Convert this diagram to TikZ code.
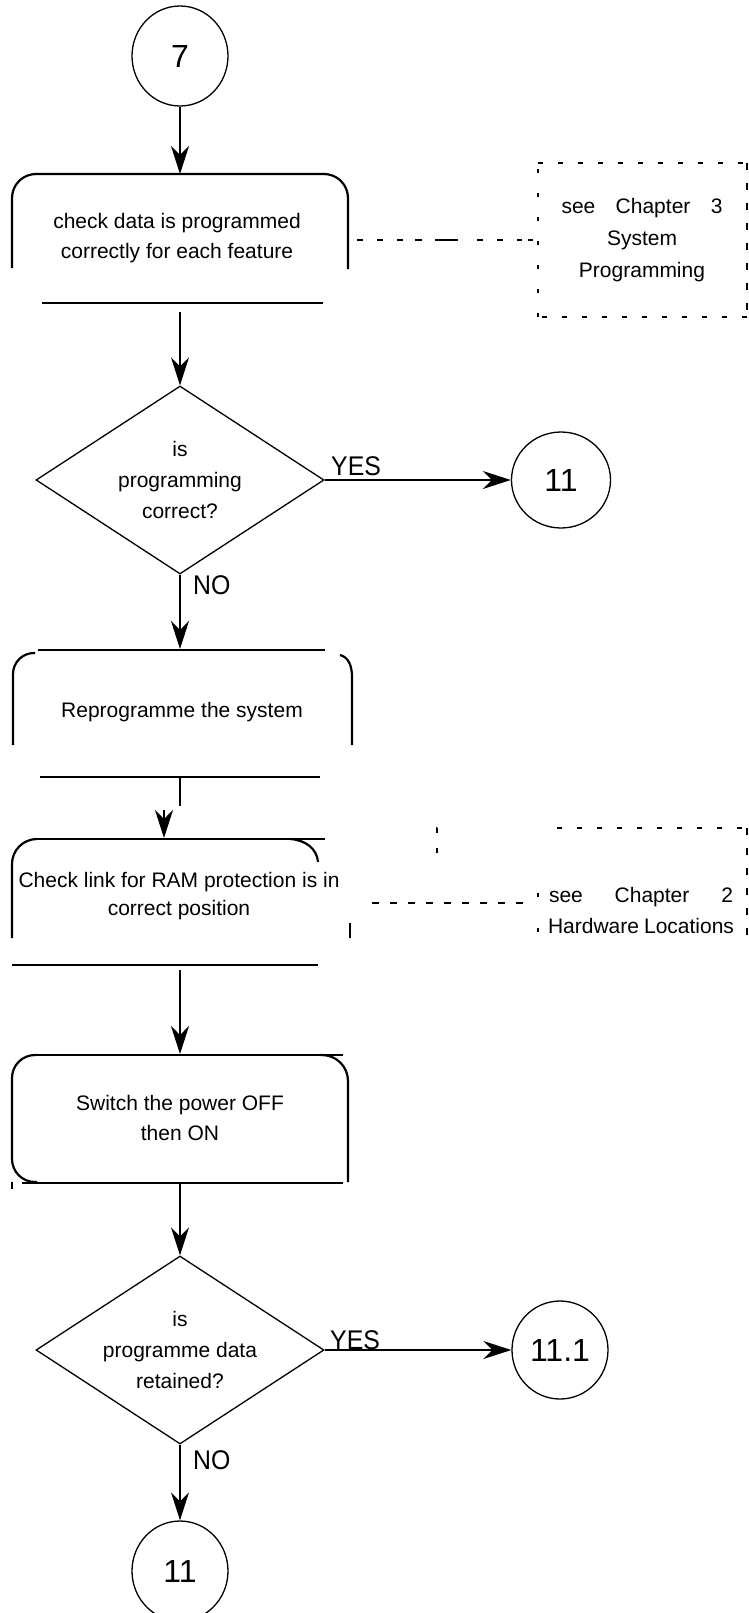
\documentclass[tikz,border=0pt]{standalone}
\usepackage{fontspec}
\setmainfont{Liberation Sans}
\newfontfamily\labelfont{Liberation Sans}[FakeStretch=0.92]
\usetikzlibrary{arrows.meta,shapes.geometric}
\begin{document}
\begin{tikzpicture}[x=1bp,y=-1bp,
  boxline/.style={line width=2.2bp},
  stubline/.style={line width=2bp},
  flow/.style={line width=1.3bp,-{Stealth[length=28bp,width=18bp,inset=9bp]}},
  yesflow/.style={line width=2bp,-{Stealth[length=28bp,width=18bp,inset=9bp]}},
  connector/.style={ellipse,draw,line width=1.3bp,inner sep=0pt,
    font=\fontsize{32bp}{36bp}\selectfont},
  decision/.style={diamond,draw,line width=1.3bp,inner sep=0pt,shape aspect=1.53,
    minimum width=288bp,minimum height=188bp,align=center,
    font=\fontsize{21bp}{31bp}\selectfont},
  boxtext/.style={align=center,inner sep=0pt,font=\fontsize{21bp}{30bp}\selectfont},
  answer/.style={inner sep=0pt,anchor=base west,font=\labelfont\fontsize{27bp}{30bp}\selectfont},
  refnote/.style={align=center,inner sep=0pt,font=\fontsize{21bp}{32bp}\selectfont},
  refedge/.style={line width=1.6bp,dash pattern=on 5bp off 15bp},
  refedgeheavy/.style={line width=2.8bp,dash pattern=on 7bp off 13bp},
  refside/.style={line width=1.6bp,dash pattern=on 4bp off 20bp},
]
\useasboundingbox (0,0) rectangle (749,1613);

% ---- entry connector
\node[connector,minimum width=96bp,minimum height=100bp] (c7) at (180,56) {7};
\coordinate (b1top) at (180,174);
\draw[flow] (c7) -- (b1top);

% ---- process: check data
\draw[boxline,rounded corners=24bp] (12,268) -- (12,174) -- (348,174) -- (348,269);
\draw[boxline] (42,303) -- (323,303);
\node[boxtext] (b1) at (177,238) {check data is programmed\\correctly for each feature};
\coordinate (b1out) at (180,312);
\coordinate (b1side) at (348,240);

% ---- reference note: chapter 3
\draw[refside] (538,317) -- (538,163);
\draw[refedge] (538,163) -- (747,163);
\draw[refedgeheavy] (747,163) -- (747,317);
\draw[refedge] (747,317) -- (538,317);
\node[refnote] (ch3) at (642,240)
  {\makebox[161bp][s]{see\hfil Chapter\hfil 3}\\System\\Programming};
\coordinate (ch3side) at (538,240);
\draw[line width=1.8bp,
  dash pattern=on 6bp off 14bp on 6bp off 14bp on 6bp off 12bp on 7bp off 13bp on 23bp off 19bp on 6bp off 14bp on 6bp off 14bp on 5bp off 6bp on 5bp off 109bp,
  dash phase=276bp] (b1side) -- (ch3side);

% ---- decision 1
\node[decision] (d1) at (180,480) {is\\programming\\correct?};
\draw[flow] (b1out) -- (d1.north);
\node[connector,minimum width=99bp,minimum height=96bp] (c11a) at (561,480) {11};
\draw[yesflow] (d1.east) -- (c11a);
\node[answer] (yes1) at (331,475) {YES};
\node[answer] (no1) at (193,594) {NO};
\coordinate (b2top) at (180,649);
\draw[flow] (d1.south) -- (b2top);

% ---- process: reprogramme
\draw[boxline] (38,650) -- (325,650);
\draw[boxline,rounded corners=21bp] (35,653) -- (13,653) -- (13,745);
\draw[boxline] (340,655) .. controls (348,657) and (352,665) .. (352,677) -- (352,745);
\draw[boxline] (40,777) -- (320,777);
\node[boxtext] (b2) at (182,712) {Reprogramme the system};
\coordinate (b2out) at (180,777);
\coordinate (b2stub) at (180,806);
\draw[stubline] (b2out) -- (b2stub);

% ---- process: RAM protection link
\coordinate (b3in) at (164,810);
\coordinate (b3top) at (164,838);
\draw[flow] (b3in) -- (b3top);
\draw[boxline] (37,839) -- (325,839);
\draw[boxline,rounded corners=25bp] (37,839) -- (12,839) -- (12,938);
\draw[boxline] (290,839) .. controls (306,840) and (317,849) .. (318,862);
\draw[boxline] (350,923) -- (350,938);
\draw[boxline] (12,965) -- (318,965);
\node[boxtext,font=\fontsize{21bp}{28bp}\selectfont] (b3) at (179,896)
  {Check link for RAM protection is in\\correct position};
\coordinate (b3side) at (350,903);
\coordinate (b3out) at (180,970);

% ---- reference note: chapter 2
\draw[refedge] (437,853) -- (437,828) -- (444,828);
\draw[refedge] (557,828) -- (747,828);
\draw[refedgeheavy] (747,828) -- (747,940);
\draw[line width=1.6bp,dash pattern=on 4bp off 31bp] (538,893) -- (538,940);
\node[refnote,font=\fontsize{21bp}{31bp}\selectfont] (ch2) at (641,910)
  {\makebox[184bp][s]{see\ \hfil Chapter\ \hfil 2}\\\makebox[186bp][s]{Hardware\ \hfil Locations}};
\coordinate (ch2side) at (538,903);
\draw[line width=1.8bp,
  dash pattern=on 7bp off 11bp on 7bp off 11bp on 7bp off 11bp on 7bp off 11bp on 7bp off 11bp on 7bp off 11bp on 7bp off 11bp on 7bp off 11bp on 7bp off 37bp,
  dash phase=166bp] (b3side) -- (ch2side);

% ---- process: power cycle
\coordinate (b4top) at (180,1054);
\draw[flow] (b3out) -- (b4top);
\draw[boxline] (33,1055) -- (343,1055);
\draw[boxline,rounded corners=23bp] (37,1055) -- (12,1055) -- (12,1182) -- (37,1182);
\draw[boxline,rounded corners=26bp] (320,1055) -- (348,1055) -- (348,1182);
\draw[boxline] (22,1183) -- (343,1183);
\draw[boxline] (12,1182) -- (12,1189);
\node[boxtext] (b4) at (180,1118) {Switch the power OFF\\then ON};
\coordinate (b4out) at (180,1183);

% ---- decision 2
\node[decision] (d2) at (180,1350) {is\\programme data\\retained?};
\draw[flow] (b4out) -- (d2.north);
\node[connector,minimum width=96bp,minimum height=98bp] (c111) at (560,1350) {11.1};
\draw[yesflow] (d2.east) -- (c111);
\node[answer] (yes2) at (330,1349) {YES};
\node[answer] (no2) at (193,1469) {NO};
\node[connector,minimum width=96bp,minimum height=100bp] (c11b) at (180,1571) {11};
\draw[flow] (d2.south) -- (c11b);
\end{tikzpicture}
\end{document}
